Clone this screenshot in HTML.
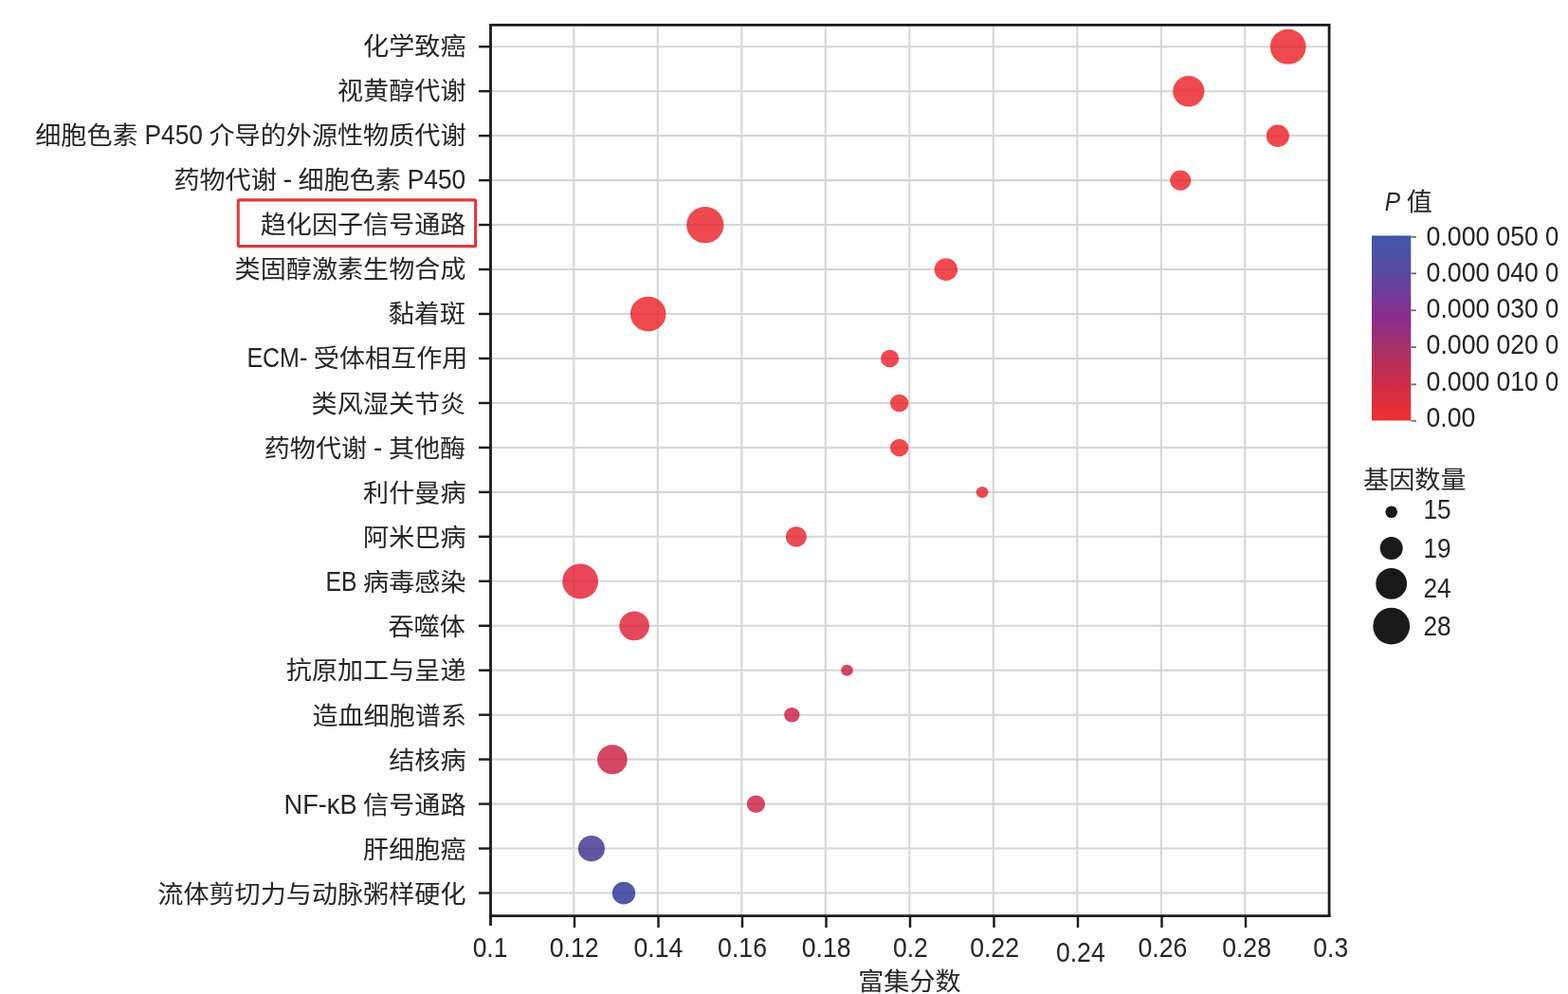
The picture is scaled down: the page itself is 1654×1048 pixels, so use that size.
<!DOCTYPE html>
<html lang="zh-CN"><head><meta charset="utf-8"><title>富集分数</title>
<style>
html,body{margin:0;padding:0;background:#fefefe;}
body{width:1654px;height:1048px;overflow:hidden;}
svg{display:block;}
text{font-family:"Liberation Sans","Noto Sans CJK SC",sans-serif;fill:#262626;font-size:27px;}
</style></head><body>
<svg width="1654" height="1048" viewBox="0 0 1654 1048">
<rect x="0" y="0" width="1654" height="1048" fill="#fefefe"/>
<g stroke="#d5d6d8" stroke-width="2.05" fill="none">
<line x1="517.5" y1="49.20" x2="1402.1" y2="49.20"/>
<line x1="517.5" y1="96.17" x2="1402.1" y2="96.17"/>
<line x1="517.5" y1="143.13" x2="1402.1" y2="143.13"/>
<line x1="517.5" y1="190.10" x2="1402.1" y2="190.10"/>
<line x1="517.5" y1="237.06" x2="1402.1" y2="237.06"/>
<line x1="517.5" y1="284.03" x2="1402.1" y2="284.03"/>
<line x1="517.5" y1="330.99" x2="1402.1" y2="330.99"/>
<line x1="517.5" y1="377.95" x2="1402.1" y2="377.95"/>
<line x1="517.5" y1="424.92" x2="1402.1" y2="424.92"/>
<line x1="517.5" y1="471.89" x2="1402.1" y2="471.89"/>
<line x1="517.5" y1="518.85" x2="1402.1" y2="518.85"/>
<line x1="517.5" y1="565.82" x2="1402.1" y2="565.82"/>
<line x1="517.5" y1="612.78" x2="1402.1" y2="612.78"/>
<line x1="517.5" y1="659.75" x2="1402.1" y2="659.75"/>
<line x1="517.5" y1="706.71" x2="1402.1" y2="706.71"/>
<line x1="517.5" y1="753.68" x2="1402.1" y2="753.68"/>
<line x1="517.5" y1="800.64" x2="1402.1" y2="800.64"/>
<line x1="517.5" y1="847.61" x2="1402.1" y2="847.61"/>
<line x1="517.5" y1="894.57" x2="1402.1" y2="894.57"/>
<line x1="517.5" y1="941.54" x2="1402.1" y2="941.54"/>
<line x1="605.30" y1="26.4" x2="605.30" y2="965.7"/>
<line x1="693.80" y1="26.4" x2="693.80" y2="965.7"/>
<line x1="782.30" y1="26.4" x2="782.30" y2="965.7"/>
<line x1="870.80" y1="26.4" x2="870.80" y2="965.7"/>
<line x1="959.30" y1="26.4" x2="959.30" y2="965.7"/>
<line x1="1047.80" y1="26.4" x2="1047.80" y2="965.7"/>
<line x1="1136.30" y1="26.4" x2="1136.30" y2="965.7"/>
<line x1="1224.80" y1="26.4" x2="1224.80" y2="965.7"/>
<line x1="1313.30" y1="26.4" x2="1313.30" y2="965.7"/>
</g>
<g fill-opacity="0.8">
<ellipse cx="1358.7" cy="49.30" rx="18.9" ry="18.5" fill="#eb1d23"/>
<ellipse cx="1253.8" cy="96.27" rx="16.6" ry="16.2" fill="#eb1d23"/>
<ellipse cx="1347.8" cy="143.23" rx="12.1" ry="11.7" fill="#eb1d23"/>
<ellipse cx="1245.2" cy="190.20" rx="11.0" ry="10.6" fill="#eb1d23"/>
<ellipse cx="743.8" cy="237.16" rx="19.6" ry="19.2" fill="#eb1d23"/>
<ellipse cx="997.9" cy="284.13" rx="12.2" ry="11.8" fill="#eb1d23"/>
<ellipse cx="683.7" cy="331.09" rx="18.8" ry="18.4" fill="#eb1d23"/>
<ellipse cx="938.6" cy="378.06" rx="9.6" ry="9.2" fill="#eb1d23"/>
<ellipse cx="948.7" cy="425.02" rx="9.7" ry="9.3" fill="#eb1d23"/>
<ellipse cx="948.7" cy="471.99" rx="9.7" ry="9.3" fill="#eb1d23"/>
<ellipse cx="1036.1" cy="518.95" rx="6.4" ry="6.0" fill="#e91d2a"/>
<ellipse cx="839.9" cy="565.92" rx="11.0" ry="10.6" fill="#e91d2a"/>
<ellipse cx="612.1" cy="612.88" rx="18.9" ry="18.5" fill="#e41a31"/>
<ellipse cx="669.1" cy="659.85" rx="15.8" ry="15.4" fill="#df1a34"/>
<ellipse cx="893.5" cy="706.81" rx="6.4" ry="6.0" fill="#cb1941"/>
<ellipse cx="835.3" cy="753.78" rx="8.2" ry="7.8" fill="#cb1941"/>
<ellipse cx="645.9" cy="800.74" rx="15.8" ry="15.4" fill="#cb1941"/>
<ellipse cx="797.4" cy="847.71" rx="9.7" ry="9.3" fill="#cb1941"/>
<ellipse cx="623.9" cy="894.67" rx="14.1" ry="13.7" fill="#3b2d8f"/>
<ellipse cx="658.0" cy="941.64" rx="12.2" ry="11.8" fill="#273094"/>
</g>
<g stroke="#1c1c1e" stroke-width="2.8" fill="none">
<path d="M517.5 976.0 V26.4 H1402.1 V967.1"/>
<line x1="516.1" y1="965.7" x2="1403.5" y2="965.7"/>
</g>
<g stroke="#1c1c1e" stroke-width="2.45" fill="none">
<line x1="505" y1="49.20" x2="517.5" y2="49.20"/>
<line x1="505" y1="96.17" x2="517.5" y2="96.17"/>
<line x1="505" y1="143.13" x2="517.5" y2="143.13"/>
<line x1="505" y1="190.10" x2="517.5" y2="190.10"/>
<line x1="505" y1="237.06" x2="517.5" y2="237.06"/>
<line x1="505" y1="284.03" x2="517.5" y2="284.03"/>
<line x1="505" y1="330.99" x2="517.5" y2="330.99"/>
<line x1="505" y1="377.95" x2="517.5" y2="377.95"/>
<line x1="505" y1="424.92" x2="517.5" y2="424.92"/>
<line x1="505" y1="471.89" x2="517.5" y2="471.89"/>
<line x1="505" y1="518.85" x2="517.5" y2="518.85"/>
<line x1="505" y1="565.82" x2="517.5" y2="565.82"/>
<line x1="505" y1="612.78" x2="517.5" y2="612.78"/>
<line x1="505" y1="659.75" x2="517.5" y2="659.75"/>
<line x1="505" y1="706.71" x2="517.5" y2="706.71"/>
<line x1="505" y1="753.68" x2="517.5" y2="753.68"/>
<line x1="505" y1="800.64" x2="517.5" y2="800.64"/>
<line x1="505" y1="847.61" x2="517.5" y2="847.61"/>
<line x1="505" y1="894.57" x2="517.5" y2="894.57"/>
<line x1="505" y1="941.54" x2="517.5" y2="941.54"/>
<line x1="606.00" y1="965.7" x2="606.00" y2="978"/>
<line x1="694.50" y1="965.7" x2="694.50" y2="978"/>
<line x1="783.00" y1="965.7" x2="783.00" y2="978"/>
<line x1="871.50" y1="965.7" x2="871.50" y2="978"/>
<line x1="960.00" y1="965.7" x2="960.00" y2="978"/>
<line x1="1048.50" y1="965.7" x2="1048.50" y2="978"/>
<line x1="1137.00" y1="965.7" x2="1137.00" y2="978"/>
<line x1="1225.50" y1="965.7" x2="1225.50" y2="978"/>
<line x1="1314.00" y1="965.7" x2="1314.00" y2="978"/>
</g>
<g>
<text><tspan x="383.10" y="58.00" textLength="108.40" lengthAdjust="spacingAndGlyphs" font-size="25.6">化学致癌</tspan></text>
<text><tspan x="356.00" y="105.00" textLength="135.50" lengthAdjust="spacingAndGlyphs" font-size="25.6">视黄醇代谢</tspan></text>
<text><tspan x="37.25" y="152.00" textLength="108.40" lengthAdjust="spacingAndGlyphs" font-size="25.6">细胞色素</tspan> <tspan x="152.48" y="152.00" textLength="61.46" lengthAdjust="spacingAndGlyphs" font-size="30.0">P450</tspan> <tspan x="220.50" y="152.00" textLength="271.00" lengthAdjust="spacingAndGlyphs" font-size="25.6">介导的外源性物质代谢</tspan></text>
<text><tspan x="183.40" y="199.00" textLength="108.40" lengthAdjust="spacingAndGlyphs" font-size="25.6">药物代谢</tspan> <tspan x="298.63" y="199.00" textLength="9.35" lengthAdjust="spacingAndGlyphs" font-size="30.0">-</tspan> <tspan x="314.54" y="199.00" textLength="108.40" lengthAdjust="spacingAndGlyphs" font-size="25.6">细胞色素</tspan> <tspan x="429.77" y="199.00" textLength="61.46" lengthAdjust="spacingAndGlyphs" font-size="30.0">P450</tspan></text>
<text><tspan x="274.70" y="246.00" textLength="216.80" lengthAdjust="spacingAndGlyphs" font-size="25.6">趋化因子信号通路</tspan></text>
<text><tspan x="247.60" y="293.00" textLength="243.90" lengthAdjust="spacingAndGlyphs" font-size="25.6">类固醇激素生物合成</tspan></text>
<text><tspan x="409.80" y="340.00" textLength="81.30" lengthAdjust="spacingAndGlyphs" font-size="25.6">黏着斑</tspan></text>
<text><tspan x="260.39" y="387.00" textLength="63.85" lengthAdjust="spacingAndGlyphs" font-size="30.0">ECM-</tspan> <tspan x="330.80" y="387.00" textLength="162.60" lengthAdjust="spacingAndGlyphs" font-size="25.6">受体相互作用</tspan></text>
<text><tspan x="328.60" y="435.00" textLength="162.60" lengthAdjust="spacingAndGlyphs" font-size="25.6">类风湿关节炎</tspan></text>
<text><tspan x="278.76" y="482.00" textLength="108.40" lengthAdjust="spacingAndGlyphs" font-size="25.6">药物代谢</tspan> <tspan x="393.99" y="482.00" textLength="9.35" lengthAdjust="spacingAndGlyphs" font-size="30.0">-</tspan> <tspan x="409.90" y="482.00" textLength="81.30" lengthAdjust="spacingAndGlyphs" font-size="25.6">其他酶</tspan></text>
<text><tspan x="383.10" y="529.00" textLength="108.40" lengthAdjust="spacingAndGlyphs" font-size="25.6">利什曼病</tspan></text>
<text><tspan x="383.10" y="576.00" textLength="108.40" lengthAdjust="spacingAndGlyphs" font-size="25.6">阿米巴病</tspan></text>
<text><tspan x="343.59" y="623.00" textLength="32.95" lengthAdjust="spacingAndGlyphs" font-size="30.0">EB</tspan> <tspan x="383.10" y="623.00" textLength="108.40" lengthAdjust="spacingAndGlyphs" font-size="25.6">病毒感染</tspan></text>
<text><tspan x="409.50" y="670.00" textLength="81.30" lengthAdjust="spacingAndGlyphs" font-size="25.6">吞噬体</tspan></text>
<text><tspan x="301.80" y="716.00" textLength="189.70" lengthAdjust="spacingAndGlyphs" font-size="25.6">抗原加工与呈递</tspan></text>
<text><tspan x="329.40" y="764.00" textLength="162.60" lengthAdjust="spacingAndGlyphs" font-size="25.6">造血细胞谱系</tspan></text>
<text><tspan x="410.20" y="811.00" textLength="81.30" lengthAdjust="spacingAndGlyphs" font-size="25.6">结核病</tspan></text>
<text><tspan x="299.58" y="858.00" textLength="76.96" lengthAdjust="spacingAndGlyphs" font-size="30.0">NF-κB</tspan> <tspan x="383.10" y="858.00" textLength="108.40" lengthAdjust="spacingAndGlyphs" font-size="25.6">信号通路</tspan></text>
<text><tspan x="383.10" y="905.00" textLength="108.40" lengthAdjust="spacingAndGlyphs" font-size="25.6">肝细胞癌</tspan></text>
<text><tspan x="166.30" y="952.00" textLength="325.20" lengthAdjust="spacingAndGlyphs" font-size="25.6">流体剪切力与动脉粥样硬化</tspan></text>
</g>
<g>
<text><tspan x="498.63" y="1009.00" textLength="36.80" lengthAdjust="spacingAndGlyphs" font-size="30.0">0.1</tspan></text>
<text><tspan x="579.78" y="1009.00" textLength="51.84" lengthAdjust="spacingAndGlyphs" font-size="30.0">0.12</tspan></text>
<text><tspan x="668.45" y="1009.00" textLength="51.84" lengthAdjust="spacingAndGlyphs" font-size="30.0">0.14</tspan></text>
<text><tspan x="757.12" y="1009.00" textLength="51.84" lengthAdjust="spacingAndGlyphs" font-size="30.0">0.16</tspan></text>
<text><tspan x="845.79" y="1009.00" textLength="51.84" lengthAdjust="spacingAndGlyphs" font-size="30.0">0.18</tspan></text>
<text><tspan x="941.98" y="1009.00" textLength="36.80" lengthAdjust="spacingAndGlyphs" font-size="30.0">0.2</tspan></text>
<text><tspan x="1023.13" y="1009.00" textLength="51.84" lengthAdjust="spacingAndGlyphs" font-size="30.0">0.22</tspan></text>
<text><tspan x="1113.91" y="1014.00" textLength="51.84" lengthAdjust="spacingAndGlyphs" font-size="30.0">0.24</tspan></text>
<text><tspan x="1200.47" y="1009.00" textLength="51.84" lengthAdjust="spacingAndGlyphs" font-size="30.0">0.26</tspan></text>
<text><tspan x="1289.14" y="1009.00" textLength="51.84" lengthAdjust="spacingAndGlyphs" font-size="30.0">0.28</tspan></text>
<text><tspan x="1385.33" y="1009.00" textLength="36.80" lengthAdjust="spacingAndGlyphs" font-size="30.0">0.3</tspan></text>
<text><tspan x="905.20" y="1044.00" textLength="108.40" lengthAdjust="spacingAndGlyphs" font-size="25.6">富集分数</tspan></text>
</g>
<rect x="251.25" y="210.9" width="250.4" height="48.7" rx="1.2" fill="none" stroke="#dc3a3d" stroke-width="3.1"/>
<defs><linearGradient id="cb" x1="0" y1="0" x2="0" y2="1">
<stop offset="0" stop-color="#4158a9"/>
<stop offset="0.2" stop-color="#5a4a9f"/>
<stop offset="0.4" stop-color="#82308f"/>
<stop offset="0.46" stop-color="#8b2c8b"/>
<stop offset="0.6" stop-color="#a6316a"/>
<stop offset="0.8" stop-color="#cc2d48"/>
<stop offset="1" stop-color="#f03031"/>
</linearGradient></defs>
<rect x="1447" y="248.4" width="41.3" height="195" fill="url(#cb)"/>
<g stroke="#6d7378" stroke-width="1.8">
<line x1="1488.3" y1="249.8" x2="1494" y2="249.8"/>
<line x1="1488.3" y1="288.3" x2="1494" y2="288.3"/>
<line x1="1488.3" y1="327.2" x2="1494" y2="327.2"/>
<line x1="1488.3" y1="366.1" x2="1494" y2="366.1"/>
<line x1="1488.3" y1="405.3" x2="1494" y2="405.3"/>
<line x1="1488.3" y1="443.7" x2="1494" y2="443.7"/>
</g>
<text><tspan x="1504.54" y="259.00" textLength="66.88" lengthAdjust="spacingAndGlyphs" font-size="30.0">0.000</tspan> <tspan x="1578.52" y="259.00" textLength="44.31" lengthAdjust="spacingAndGlyphs" font-size="30.0">050</tspan> <tspan x="1629.93" y="259.00" textLength="14.23" lengthAdjust="spacingAndGlyphs" font-size="30.0">0</tspan></text>
<text><tspan x="1504.54" y="297.00" textLength="66.88" lengthAdjust="spacingAndGlyphs" font-size="30.0">0.000</tspan> <tspan x="1578.52" y="297.00" textLength="44.31" lengthAdjust="spacingAndGlyphs" font-size="30.0">040</tspan> <tspan x="1629.93" y="297.00" textLength="14.23" lengthAdjust="spacingAndGlyphs" font-size="30.0">0</tspan></text>
<text><tspan x="1504.54" y="335.00" textLength="66.88" lengthAdjust="spacingAndGlyphs" font-size="30.0">0.000</tspan> <tspan x="1578.52" y="335.00" textLength="44.31" lengthAdjust="spacingAndGlyphs" font-size="30.0">030</tspan> <tspan x="1629.93" y="335.00" textLength="14.23" lengthAdjust="spacingAndGlyphs" font-size="30.0">0</tspan></text>
<text><tspan x="1504.54" y="373.00" textLength="66.88" lengthAdjust="spacingAndGlyphs" font-size="30.0">0.000</tspan> <tspan x="1578.52" y="373.00" textLength="44.31" lengthAdjust="spacingAndGlyphs" font-size="30.0">020</tspan> <tspan x="1629.93" y="373.00" textLength="14.23" lengthAdjust="spacingAndGlyphs" font-size="30.0">0</tspan></text>
<text><tspan x="1504.54" y="412.00" textLength="66.88" lengthAdjust="spacingAndGlyphs" font-size="30.0">0.000</tspan> <tspan x="1578.52" y="412.00" textLength="44.31" lengthAdjust="spacingAndGlyphs" font-size="30.0">010</tspan> <tspan x="1629.93" y="412.00" textLength="14.23" lengthAdjust="spacingAndGlyphs" font-size="30.0">0</tspan></text>
<text><tspan x="1504.54" y="450.00" textLength="51.84" lengthAdjust="spacingAndGlyphs" font-size="30.0">0.00</tspan></text>
<text><tspan x="1460.84" y="222.00" textLength="16.34" lengthAdjust="spacingAndGlyphs" font-size="28.0" font-style="italic">P</tspan> <tspan x="1483.74" y="222.00" textLength="27.10" lengthAdjust="spacingAndGlyphs" font-size="25.6">值</tspan></text>
<text><tspan x="1438.10" y="515.00" textLength="108.40" lengthAdjust="spacingAndGlyphs" font-size="25.6">基因数量</tspan></text>
<circle cx="1467.7" cy="539.7" r="6.3" fill="#1a1a1a"/>
<text><tspan x="1501.44" y="547.00" textLength="29.27" lengthAdjust="spacingAndGlyphs" font-size="30.0">15</tspan></text>
<circle cx="1467.7" cy="577.9" r="12.0" fill="#1a1a1a"/>
<text><tspan x="1501.44" y="588.00" textLength="29.27" lengthAdjust="spacingAndGlyphs" font-size="30.0">19</tspan></text>
<circle cx="1467.7" cy="615.3" r="16.4" fill="#1a1a1a"/>
<text><tspan x="1501.44" y="630.00" textLength="29.27" lengthAdjust="spacingAndGlyphs" font-size="30.0">24</tspan></text>
<circle cx="1467.7" cy="660.2" r="19.4" fill="#1a1a1a"/>
<text><tspan x="1501.44" y="670.00" textLength="29.27" lengthAdjust="spacingAndGlyphs" font-size="30.0">28</tspan></text>
</svg>
</body></html>
